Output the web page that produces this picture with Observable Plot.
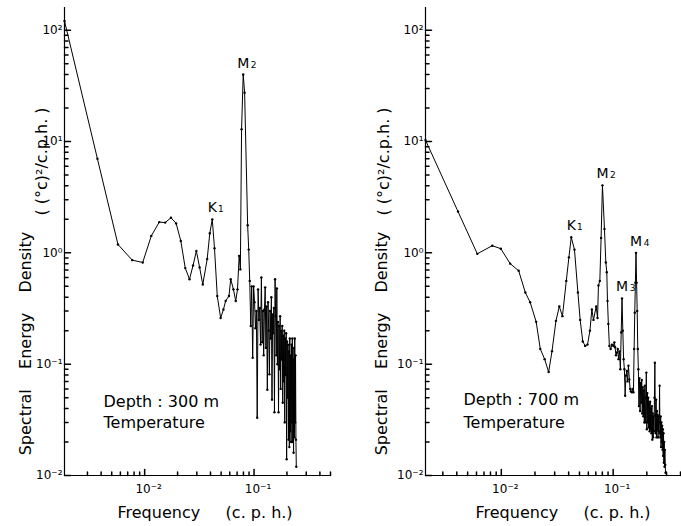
<!DOCTYPE html>
<html><head><meta charset="utf-8">
<script src="https://cdn.jsdelivr.net/npm/d3@7"></script>
<script src="https://cdn.jsdelivr.net/npm/@observablehq/plot@0.6"></script>
<style>
html,body{margin:0;padding:0;background:#fff;}
#wrap{display:flex;width:681px;height:526px;background:#fff;}
svg{display:block;}
</style></head><body><div id="wrap"></div>
<script>
// ---------- Depth 300 m ----------
const freq300 = [
 0.00185,0.0037,0.0057,0.0077,0.0096,0.0115,0.0136,0.0154,0.0174,0.0194,
 0.0214,0.0235,0.0257,0.0277,0.0297,0.0318,0.0340,0.0373,0.0394,0.0415,
 0.0435,0.0461,0.0495,0.0525,0.0550,0.0590,0.0612,0.0648,0.0680,0.0706,
 0.0731,0.0750,0.0769,0.0796,0.0820,0.0874,0.0894,0.0913,0.0933,0.0952,
 0.0972,0.0991,0.1011,0.1030,0.1050,0.1069,0.1089,0.1108,0.1128,0.1147,
 0.1167,0.1186,0.1206,0.1225,0.1245,0.1264,0.1284,0.1303,0.1323,0.1342,
 0.1362,0.1381,0.1401,0.1420,0.1440,0.1459,0.1479,0.1498,0.1518,0.1537,
 0.1557,0.1576,0.1596,0.1615,0.1635,0.1654,0.1674,0.1693,0.1713,0.1732,
 0.1752,0.1771,0.1791,0.1810,0.1830,0.1849,0.1869,0.1888,0.1908,0.1927,
 0.1947,0.1966,0.1986,0.2005,0.2025,0.2044,0.2064,0.2083,0.2103,0.2122,
 0.2142,0.2161,0.2181,0.2200,0.2220,0.2239,0.2259,0.2278,0.2298,0.2317,
 0.2337,0.2356,0.2376,0.2395,0.2415,0.2434
];
const dens300 = [
 121,7.0,1.19,0.86,0.82,1.42,1.89,1.87,2.07,1.84,
 1.28,0.73,0.58,0.77,1.04,0.74,0.52,0.88,1.5,2.0,
 1.1,0.41,0.26,0.31,0.37,0.41,0.58,0.47,0.37,0.47,
 0.94,0.71,12.9,40,27.5,1.77,1.07,0.56,0.22,0.50,
 0.114,0.50,0.36,0.21,0.30,0.033,0.47,0.25,0.32,0.15,
 0.60,0.157,0.30,0.12,0.31,0.49,0.14,0.33,0.059,0.36,
 0.20,0.081,0.30,0.17,0.40,0.048,0.28,0.19,0.32,0.037,
 0.58,0.27,0.12,0.48,0.10,0.24,0.037,0.22,0.09,0.27,
 0.06,0.20,0.11,0.22,0.045,0.18,0.07,0.20,0.03,0.17,
 0.08,0.19,0.014,0.16,0.05,0.15,0.021,0.13,0.018,0.17,
 0.025,0.12,0.02,0.15,0.03,0.17,0.02,0.11,0.016,0.14,
 0.022,0.17,0.03,0.12,0.021,0.012
];
const peakName300 = ["K", "M"];
const peakSub300 = ["1", "2"];
const peakFreq300 = [0.0415, 0.0796];
const peakDens300 = [2.0, 40];

// ---------- Depth 700 m ----------
const freq700 = [
 0.0021,0.0041,0.0061,0.0083,0.0099,0.0120,0.0143,0.0164,0.0181,0.0205,
 0.0223,0.0244,0.0265,0.0284,0.0308,0.0330,0.0352,0.0381,0.0402,0.0422,
 0.0451,0.0484,0.0507,0.0535,0.0562,0.0590,0.0620,0.0645,0.0667,0.0705,
 0.0725,0.0739,0.0760,0.0780,0.0802,0.0836,0.0860,0.0877,0.0890,0.0906,
 0.0925,0.0950,0.0975,0.1004,0.1025,0.1040,0.1060,0.1079,0.1100,0.1117,
 0.1140,0.1160,0.1180,0.1200,0.1220,0.1240,0.1260,0.1280,0.1300,0.1325,
 0.1345,0.1370,0.1395,0.1418,0.1440,0.1468,0.1490,0.1518,0.1540,0.1560,
 0.1580,0.1600,0.1620,0.1640,0.1660,0.1680,0.1700,0.1720,0.1740,0.1760,
 0.1780,0.1800,0.1820,0.1840,0.1860,0.1880,0.1900,0.1920,0.1940,0.1960,
 0.1980,0.2000,0.2020,0.2040,0.2060,0.2080,0.2100,0.2120,0.2140,0.2160,
 0.2180,0.2200,0.2220,0.2240,0.2260,0.2280,0.2300,0.2320,0.2340,0.2360,
 0.2380,0.2400,0.2420,0.2440,0.2460,0.2480,0.2500,0.2520,0.2540,0.2560,
 0.2580,0.2600,0.2620,0.2640,0.2660,0.2680,0.2700,0.2720,0.2740,0.2760,
 0.2780,0.2800,0.2820,0.2840,0.2860,0.2880,0.2900,0.2920,0.2940
];
const dens700 = [
 10.3,2.35,0.98,1.16,1.09,0.80,0.69,0.44,0.36,0.24,
 0.137,0.111,0.085,0.131,0.245,0.33,0.27,0.56,0.91,1.38,
 1.07,0.44,0.25,0.16,0.146,0.150,0.20,0.31,0.25,0.33,
 0.26,0.51,0.56,1.36,4.04,1.64,0.82,0.67,0.37,0.23,
 0.146,0.137,0.15,0.146,0.157,0.142,0.12,0.127,0.137,0.111,
 0.13,0.09,0.193,0.39,0.20,0.111,0.09,0.052,0.079,0.087,
 0.07,0.097,0.073,0.06,0.057,0.056,0.06,0.056,0.137,0.29,
 0.54,1.0,0.54,0.30,0.137,0.09,0.042,0.075,0.038,0.068,
 0.045,0.072,0.036,0.062,0.034,0.058,0.03,0.064,0.03,0.05,
 0.084,0.026,0.055,0.03,0.05,0.027,0.044,0.025,0.046,0.026,
 0.04,0.024,0.042,0.021,0.036,0.022,0.034,0.025,0.05,0.103,
 0.035,0.024,0.048,0.022,0.038,0.026,0.035,0.022,0.034,0.025,
 0.03,0.064,0.024,0.022,0.034,0.018,0.03,0.02,0.028,0.017,
 0.026,0.015,0.024,0.013,0.02,0.012,0.017,0.0125,0.0106
];
const peakName700 = ["K", "M", "M", "M"];
const peakSub700 = ["1", "2", "3", "4"];
const peakFreq700 = [0.0422, 0.0802, 0.1200, 0.1600];
const peakDens700 = [1.38, 4.04, 0.39, 1.0];

// ---------- axes / text ----------
const yTicks = [0.01, 0.1, 1, 10, 100];
const yTickLabels = ["10\u207B\u00B2", "10\u207B\u00B9", "10\u2070", "10\u00B9", "10\u00B2"];
const xTicks = [0.01, 0.1];
const xTickLabels = ["10\u207B\u00B2", "10\u207B\u00B9"];
const yTitle = "Spectral\u00a0\u00a0\u00a0 Energy\u00a0\u00a0\u00a0 Density";
const yUnit = "( (\u00B0c)\u00B2/c.p.h. )";
const xTitle = "Frequency\u00a0\u00a0\u00a0\u00a0 (c. p. h.)";
const depthLabels = ["Depth\u00a0:\u00a0300\u00a0m", "Depth\u00a0:\u00a0700\u00a0m"];
const quantityLabel = "Temperature";

const yMinor = [];
for (let e = -2; e < 2; e++) for (let m = 2; m <= 9; m++) yMinor.push(m * Math.pow(10, e));

const tickShape = {draw(context, l) { context.moveTo(0, 0); context.lineTo(0, -l); }};

function panel(o) {
  const table = o.freq.map((f, i) => ({f, v: o.dens[i]}));
  const peaks = o.pName.map((n, i) => ({name: n, sub: o.pSub[i], f: o.pFreq[i], v: o.pDens[i]}));
  const xMinor = [];
  for (let e = -3; e < 0; e++) for (let m = 2; m <= 9; m++) {
    const t = m * Math.pow(10, e);
    if (t >= o.xMinorFrom && t <= o.xDomain[1]) xMinor.push(t);
  }
  const x0 = o.xDomain[0];
  return Plot.plot({
    width: o.width, height: 526,
    marginLeft: o.marginLeft, marginRight: o.marginRight, marginTop: 7, marginBottom: 51,
    x: {type: "log", domain: o.xDomain, axis: null},
    y: {type: "log", domain: [0.01, 160], axis: null},
    style: {fontFamily: "DejaVu Sans", color: "black", background: "white", overflow: "visible"},
    marks: [
      Plot.ruleX([x0], {stroke: "black", strokeWidth: 1.2}),
      Plot.ruleY([0.01], {stroke: "black", strokeWidth: 1.2}),
      Plot.vector(yTicks, {x: x0, y: d => d, length: 6, rotate: 90, anchor: "start", shape: tickShape, stroke: "black"}),
      Plot.vector(yMinor, {x: x0, y: d => d, length: 3.5, rotate: 90, anchor: "start", shape: tickShape, stroke: "black"}),
      Plot.vector(xTicks, {x: d => d, y: 0.01, length: 6, rotate: 0, anchor: "start", shape: tickShape, stroke: "black"}),
      Plot.vector(xMinor, {x: d => d, y: 0.01, length: 3.5, rotate: 0, anchor: "start", shape: tickShape, stroke: "black"}),
      Plot.text(yTicks, {x: x0, y: d => d, text: (d, i) => yTickLabels[i], textAnchor: "end", dx: -2, fontSize: 12, fill: "black"}),
      Plot.text(xTicks, {x: d => d, y: 0.01, text: (d, i) => xTickLabels[i], dy: 14, dx: 4, fontSize: 12, fill: "black"}),
      Plot.line(table, {x: "f", y: "v", stroke: "black", strokeWidth: 1}),
      Plot.dot(table, {x: "f", y: "v", r: 1.2, fill: "black"}),
      Plot.text(peaks, {x: "f", y: "v", text: "name", dy: -7, lineAnchor: "bottom", fontSize: 14, fill: "black"}),
      Plot.text(peaks, {filter: d => d.name === "M", x: "f", y: "v", text: "sub", dx: 10.5, dy: -7, lineAnchor: "bottom", fontSize: 9, fill: "black"}),
      Plot.text(peaks, {filter: d => d.name === "K", x: "f", y: "v", text: "sub", dx: 8.5, dy: -7, lineAnchor: "bottom", fontSize: 9, fill: "black"}),
      Plot.text([yTitle], {frameAnchor: "left", textAnchor: "middle", rotate: -90, dx: o.titleDx, dy: 102, fontSize: 16, fill: "black", letterSpacing: 0.6}),
      Plot.text([yUnit], {frameAnchor: "left", textAnchor: "middle", rotate: -90, dx: o.unitDx, dy: -80, fontSize: 16, fill: "black"}),
      Plot.text([o.depth], {frameAnchor: "top-left", dx: o.depthDx, dy: o.depthDy, textAnchor: "start", lineAnchor: "bottom", fontSize: 16, fill: "black"}),
      Plot.text([quantityLabel], {frameAnchor: "top-left", dx: o.depthDx, dy: 420, textAnchor: "start", lineAnchor: "bottom", fontSize: 16, fill: "black"}),
      Plot.text([xTitle], {frameAnchor: "bottom-left", dx: o.xTitleDx, dy: 42, textAnchor: "start", lineAnchor: "bottom", fontSize: 16, fill: "black", letterSpacing: 0.4})
    ]
  });
}

const wrap = document.getElementById("wrap");
wrap.appendChild(panel({
  freq: freq300, dens: dens300, pName: peakName300, pSub: peakSub300, pFreq: peakFreq300, pDens: peakDens300,
  xDomain: [0.00185, 0.5], xMinorFrom: 0.0029, width: 340, marginLeft: 64, marginRight: 10,
  titleDx: -39, unitDx: -23, depth: depthLabels[0], depthDx: 39, depthDy: 399, xTitleDx: 53
}));
wrap.appendChild(panel({
  freq: freq700, dens: dens700, pName: peakName700, pSub: peakSub700, pFreq: peakFreq700, pDens: peakDens700,
  xDomain: [0.0021, 0.40], xMinorFrom: 0.0029, width: 341, marginLeft: 85, marginRight: 1,
  titleDx: -44, unitDx: -42, depth: depthLabels[1], depthDx: 38, depthDy: 397, xTitleDx: 50
}));
</script></body></html>
